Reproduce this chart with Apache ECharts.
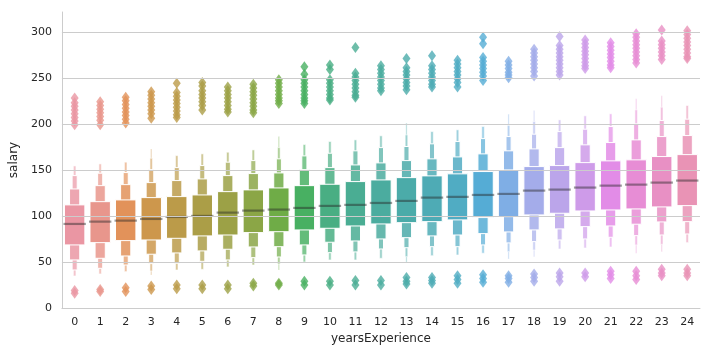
<!DOCTYPE html>
<html><head><meta charset="utf-8">
<script src="https://cdn.jsdelivr.net/npm/echarts@6/dist/echarts.min.js"></script>
<style>html,body{margin:0;padding:0;background:#fff}#c{width:712px;height:352px}</style>
</head><body><div id="c"></div>
<script>
const categories = ['0','1','2','3','4','5','6','7','8','9','10','11','12','13','14','15','16','17','18','19','20','21','22','23','24'];
const yTicks = [0, 50, 100, 150, 200, 250, 300];
const medians = [91.3, 93.8, 94.9, 96.7, 98.9, 100.0, 103.6, 105.8, 106.9, 108.7, 110.9, 112.0, 114.1, 116.3, 119.9, 120.7, 122.8, 123.9, 127.5, 128.6, 130.8, 132.9, 134.0, 136.2, 138.4];
const q1 = [68.5, 71.0, 73.2, 73.9, 75.7, 78.3, 79.3, 81.9, 82.9, 84.8, 86.6, 89.1, 91.3, 92.7, 93.8, 95.7, 98.2, 99.2, 101.1, 102.9, 105.4, 106.5, 107.6, 109.8, 111.2];
const q3 = [112.0, 115.5, 117.4, 119.9, 121.0, 122.8, 126.4, 128.3, 130.4, 132.9, 134.4, 137.3, 139.1, 141.6, 143.5, 145.7, 148.2, 150.0, 153.6, 154.7, 157.9, 159.8, 160.9, 164.5, 166.6];
const lv1Lo = [52.2, 54.0, 56.5, 58.4, 59.8, 62.0, 63.8, 66.3, 66.6, 68.5, 71.4, 72.8, 75.0, 76.4, 78.3, 79.3, 80.8, 82.6, 84.8, 85.9, 88.4, 89.1, 91.0, 93.5, 93.8];
const lv1Hi = [129.3, 132.9, 134.0, 136.2, 138.4, 140.2, 143.8, 146.0, 146.7, 150.3, 152.5, 155.4, 157.6, 160.1, 162.0, 164.1, 167.4, 170.7, 172.8, 174.2, 177.2, 179.7, 182.6, 186.2, 187.3];
const lv2Lo = [41.3, 43.1, 46.7, 48.2, 48.6, 50.7, 52.2, 54.7, 55.4, 57.6, 60.1, 60.9, 64.1, 65.5, 66.6, 66.6, 68.5, 70.7, 72.1, 73.9, 75.0, 76.8, 78.6, 79.3, 80.4];
const lv2Hi = [143.8, 146.4, 147.1, 150.3, 152.5, 154.7, 158.4, 160.1, 162.0, 165.2, 168.1, 170.7, 174.2, 175.4, 178.3, 180.8, 184.0, 186.2, 188.8, 191.6, 194.2, 197.1, 200.0, 203.6, 205.1];
const lv3Lo = [34.8, 37.0, 39.5, 40.2, 41.3, 42.0, 44.6, 46.7, 47.8, 50.0, 52.2, 52.2, 54.0, 55.8, 56.8, 57.6, 59.5, 61.2, 63.0, 64.1, 65.2, 66.3, 68.5, 69.2, 71.0];
const lv3Hi = [154.3, 156.5, 158.4, 162.7, 165.5, 167.4, 169.2, 171.7, 174.2, 177.5, 180.8, 182.6, 187.0, 188.0, 191.6, 193.5, 197.1, 198.2, 202.5, 204.3, 208.7, 210.9, 215.2, 218.1, 219.9];
const lv4Lo = [null, null, null, 35.9, null, null, null, null, 41.3, null, null, null, null, 49.6, null, null, null, 53.3, 55.8, null, null, null, 59.5, 61.2, null];
const lv4Hi = [null, null, null, 172.8, null, null, null, null, 186.2, null, null, null, null, 200.8, null, null, null, 210.5, 214.5, null, null, null, 227.2, 230.4, null];
const outHigh = [
  [228, 223, 219, 215, 211, 207, 203, 199],
  [224, 220, 216, 212, 208, 204, 199],
  [229, 225, 221, 217, 213, 209, 205, 201],
  [235, 231, 227, 223, 219, 215, 211, 206],
  [244, 234, 230, 226, 222, 218, 214, 210, 207],
  [245, 241, 236, 232, 228, 224, 220, 215],
  [240, 236, 232, 228, 224, 220, 216, 213],
  [243, 239, 235, 231, 227, 223, 219, 215, 212],
  [248, 244, 240, 236, 232, 228, 225, 222],
  [262, 254, 248, 244, 240, 236, 232, 228, 225, 222],
  [264, 259, 248, 244, 240, 236, 232, 228, 226],
  [283, 255, 251, 247, 243, 239, 235, 231, 229],
  [263, 259, 255, 251, 247, 243, 239, 236],
  [271, 261, 257, 253, 249, 245, 241, 237],
  [274, 263, 259, 255, 251, 247, 243, 240],
  [269, 265, 261, 257, 253, 249, 245, 240],
  [294, 287, 272, 268, 264, 260, 256, 252, 247],
  [268, 264, 260, 256, 253, 250],
  [281, 277, 273, 269, 265, 261, 257, 252],
  [295, 285, 281, 277, 273, 269, 265, 261, 257, 253],
  [291, 287, 283, 279, 275, 271, 267, 263, 260],
  [288, 284, 280, 276, 272, 268, 264, 261],
  [298, 294, 290, 286, 282, 278, 274, 270, 266],
  [302, 290, 286, 282, 278, 274, 270],
  [301, 297, 293, 289, 285, 281, 277, 273, 271]
];
const outLow = [
  [19, 16], [20, 18], [22, 18], [24, 20], [25, 21], [25, 21], [25, 21], [27, 24], [27, 25],
  [29, 25], [29, 25], [30, 25], [30, 25], [33, 29, 26], [33, 30, 27], [35, 31, 27],
  [36, 32, 28], [35, 32, 28], [37, 33, 29], [38, 34, 29], [38, 34], [40, 36, 32],
  [40, 35, 31], [42, 38, 35], [42, 38, 35]
];

// ---- seaborn husl palette (old husl.py) + desaturate(.75) ----
const HM = [[3.2406, -1.5372, -0.4986], [-0.9689, 1.8758, 0.0415], [0.0557, -0.2040, 1.0570]];
const refU = 0.19784, refV = 0.46834;
function maxChroma(L, H) {
  const hrad = H * Math.PI / 180, sinH = Math.sin(hrad), cosH = Math.cos(hrad);
  const sub1 = Math.pow(L + 16, 3) / 1560896;
  const sub2 = sub1 > 0.008856 ? sub1 : L / 903.3;
  let result = Infinity;
  for (const [m1, m2, m3] of HM) {
    const top = (0.99915 * m1 + 1.05122 * m2 + 1.14460 * m3) * sub2;
    const rb = 0.86330 * m3 - 0.17266 * m2;
    const lb = 0.12949 * m3 - 0.38848 * m1;
    const bottom = (rb * sinH + lb * cosH) * sub2;
    for (const t of [0, 1]) {
      const C = L * (top - 1.05122 * t) / (bottom + 0.17266 * sinH * t);
      if (C > 0 && C < result) result = C;
    }
  }
  return result;
}
function huslToRgb(H, S, L) {
  const C = maxChroma(L, H) / 100 * S;
  const hr = H * Math.PI / 180;
  const U = Math.cos(hr) * C, V = Math.sin(hr) * C;
  const Y = L > 8 ? Math.pow((L + 16) / 116, 3) : L / 903.3;
  const vu = U / (13 * L) + refU, vv = V / (13 * L) + refV;
  const X = 0 - (9 * Y * vu) / ((vu - 4) * vv - vu * vv);
  const Z = (9 * Y - 15 * vv * Y - vv * X) / (3 * vv);
  const f = c => c <= 0.0031308 ? 12.92 * c : 1.055 * Math.pow(c, 1 / 2.4) - 0.055;
  return HM.map(r => Math.min(1, Math.max(0, f(r[0] * X + r[1] * Y + r[2] * Z))));
}
function rgbToHls(r, g, b) {
  const mx = Math.max(r, g, b), mn = Math.min(r, g, b), sum = mx + mn, rng = mx - mn, l = sum / 2;
  if (mx === mn) return [0, l, 0];
  const s = l <= 0.5 ? rng / sum : rng / (2 - mx - mn);
  const rc = (mx - r) / rng, gc = (mx - g) / rng, bc = (mx - b) / rng;
  let h = r === mx ? bc - gc : (g === mx ? 2 + rc - bc : 4 + gc - rc);
  h = (((h / 6) % 1) + 1) % 1;
  return [h, l, s];
}
function hlsToRgb(h, l, s) {
  if (s === 0) return [l, l, l];
  const m2 = l <= 0.5 ? l * (1 + s) : l + s - l * s, m1 = 2 * l - m2;
  const v = hue => { hue = ((hue % 1) + 1) % 1; if (hue < 1 / 6) return m1 + (m2 - m1) * hue * 6; if (hue < 0.5) return m2; if (hue < 2 / 3) return m1 + (m2 - m1) * (2 / 3 - hue) * 6; return m1; };
  return [v(h + 1 / 3), v(h), v(h - 1 / 3)];
}
const baseColors = categories.map((c, i) => {
  const h = ((i / 25 + 0.01) % 1) * 359;
  const rgb = huslToRgb(h, 0.9 * 99, 0.7 * 99);
  const [hh, ll, ss] = rgbToHls(...rgb);
  return hlsToRgb(hh, ll, ss * 0.75);
});
function toCss(rgb, t) {
  const c = rgb.map(x => Math.round(255 * (x + (1 - x) * t)));
  return 'rgb(' + c.join(',') + ')';
}

const chart = echarts.init(document.getElementById('c'), null, {renderer: 'canvas'});
const font = 'DejaVu Sans';
const fliers = [];
categories.forEach((c, i) => {
  outHigh[i].concat(outLow[i]).forEach(v => fliers.push({value: [i, v], itemStyle: {color: toCss(baseColors[i], 0)}}));
});

chart.setOption({
  animation: false,
  backgroundColor: '#ffffff',
  grid: {left: 55, right: 12, top: 12, bottom: 44, containLabel: false},
  xAxis: {
    type: 'category', data: categories, boundaryGap: true,
    axisLine: {show: true, lineStyle: {color: '#cccccc', width: 1}},
    axisTick: {show: false}, splitLine: {show: false},
    axisLabel: {color: '#262626', fontSize: 11, fontFamily: font, margin: 9},
    name: 'yearsExperience', nameLocation: 'middle', nameGap: 25,
    nameTextStyle: {color: '#262626', fontSize: 12, fontFamily: font}
  },
  yAxis: {
    type: 'value', min: 0, max: 321.5, interval: 50,
    axisLine: {show: true, lineStyle: {color: '#cccccc', width: 1}},
    axisTick: {show: false}, splitLine: {show: false},
    axisLabel: {color: '#262626', fontSize: 11, fontFamily: font, margin: 10, showMaxLabel: false,
      formatter: v => (yTicks.indexOf(v) >= 0 ? String(v) : '')},
    name: 'salary', nameLocation: 'middle', nameGap: 38,
    nameTextStyle: {color: '#262626', fontSize: 12, fontFamily: font}
  },
  series: [
    {
      type: 'line', data: [], z: 1, silent: true,
      markLine: {silent: true, symbol: 'none', label: {show: false}, animation: false,
        lineStyle: {color: '#cccccc', width: 1, type: 'solid'},
        data: yTicks.filter(v => v > 0).map(v => ({yAxis: v}))}
    },
    {
      type: 'custom', z: 3, silent: true,
      data: categories.map((c, i) => [i]),
      renderItem: (params, api) => {
        const i = api.value(0);
        const band = api.size([1, 0])[0];
        const w0 = band * 0.8;
        const cx = api.coord([i, 0])[0];
        const lv = [[q1[i], q3[i]], [lv1Lo[i], lv1Hi[i]], [lv2Lo[i], lv2Hi[i]], [lv3Lo[i], lv3Hi[i]], [lv4Lo[i], lv4Hi[i]]]
          .filter(p => p[0] !== null && p[1] !== null);
        const k = lv.length;
        const children = [];
        for (let l = k - 1; l >= 0; l--) {
          const w = w0 * Math.pow(0.5, l);
          const yTop = api.coord([i, lv[l][1]])[1];
          const yBot = api.coord([i, lv[l][0]])[1];
          children.push({
            type: 'rect',
            shape: {x: cx - w / 2, y: yTop, width: w, height: yBot - yTop},
            style: {fill: toCss(baseColors[i], 0.15 * l), stroke: '#ffffff', lineWidth: Math.min(1, w * 0.22)}
          });
        }
        const ym = api.coord([i, medians[i]])[1];
        children.push({
          type: 'line',
          shape: {x1: cx - w0 / 2 - 1, y1: ym, x2: cx + w0 / 2 + 1, y2: ym},
          style: {stroke: 'rgba(38,38,38,0.45)', lineWidth: 2.2}
        });
        return {type: 'group', children};
      }
    },
    {
      type: 'scatter', z: 4, silent: true,
      symbol: 'diamond', symbolSize: [8, 11],
      data: fliers
    }
  ]
});
</script>
</body></html>
